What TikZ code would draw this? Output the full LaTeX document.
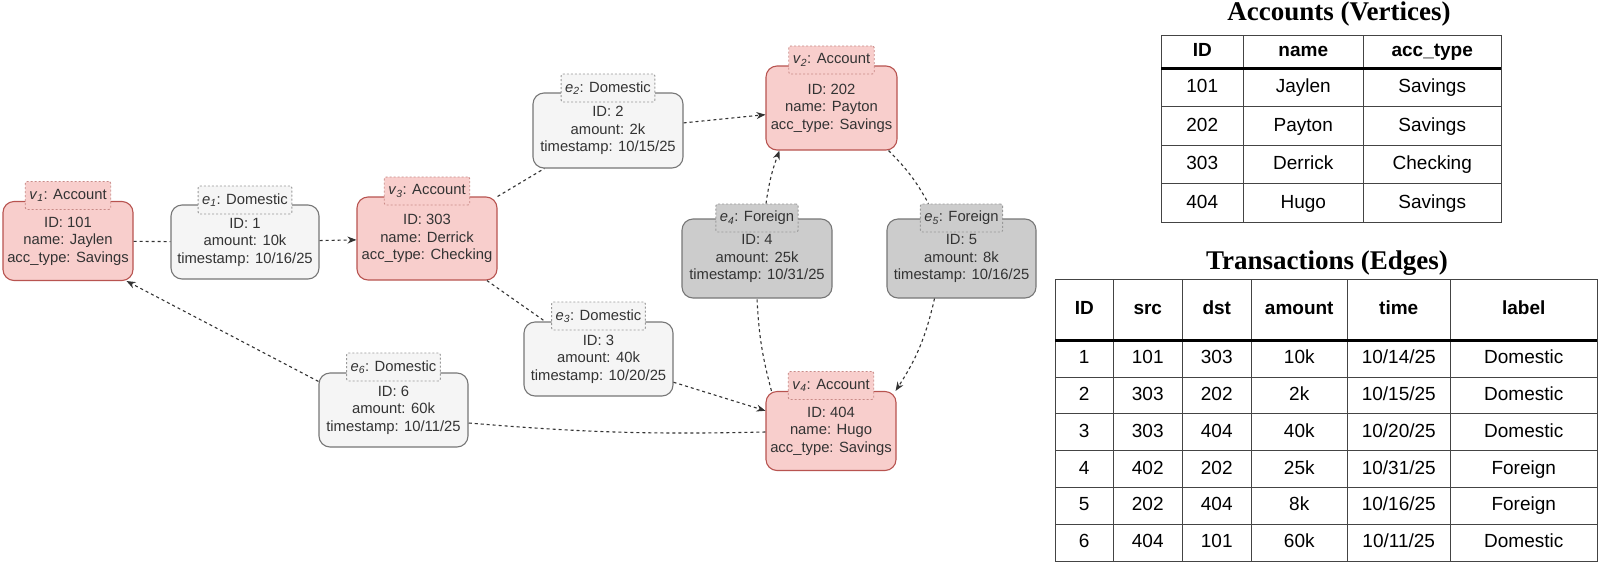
\documentclass[tikz,border=0pt]{standalone}
\usepackage{fontspec}
\setmainfont{Liberation Sans}
\newfontfamily\titleserif{Liberation Serif}
\usetikzlibrary{positioning, arrows.meta, matrix}

\definecolor{vfill}{HTML}{F8CECC}
\definecolor{vline}{HTML}{B85450}
\definecolor{vtagline}{HTML}{C98A87}
\definecolor{dfill}{HTML}{F5F5F5}
\definecolor{dline}{HTML}{777777}
\definecolor{ffill}{HTML}{CCCCCC}
\definecolor{fline}{HTML}{777777}
\definecolor{etagline}{HTML}{999999}
\definecolor{ink}{HTML}{333333}
\definecolor{gridline}{HTML}{444444}

\newcommand{\diagfont}{\fontsize{14.8pt}{17.5pt}\selectfont}
\newcommand{\tblfont}{\fontsize{19pt}{22pt}\selectfont}
\newcommand{\vlab}[1]{\textit{v}\textsubscript{\textit{#1}}: Account}
\newcommand{\elab}[2]{\textit{e}\textsubscript{\textit{#1}}: #2}

\begin{document}
\begin{tikzpicture}[%
    x=1pt, y=1pt,                          % one unit = one pixel
    >={Stealth[length=9pt, width=7pt]},    % small filled heads
    ]

\tikzset{
  box/.style={draw, rounded corners=11pt, align=center, line width=1.1pt, inner sep=0pt, font=\diagfont, text=ink},
  vert/.style={box, fill=vfill, draw=vline, minimum width=130pt, minimum height=79pt},
  dom/.style={box, fill=dfill, draw=dline, minimum width=149pt, minimum height=74pt},
  frgn/.style={box, fill=ffill, draw=fline, minimum width=150pt, minimum height=79pt},
  tag/.style={draw, dash pattern=on 2pt off 2pt, rounded corners=2pt, line width=0.9pt, minimum height=28pt, inner xsep=4pt, inner ysep=0pt, font=\diagfont, text=ink},
  vtag/.style={tag, fill=vfill, draw=vtagline},
  etag/.style={tag, fill=dfill, draw=etagline},
  ftag/.style={tag, fill=ffill, draw=etagline},
  link/.style={draw=ink, line width=1.1pt, dash pattern=on 3pt off 3pt},
  cell/.style={draw=gridline, line width=1.1pt, outer sep=0pt, inner sep=0pt, font=\tblfont, text height=14pt, text depth=4pt},
  tbl/.style={matrix of nodes, inner sep=0pt, row sep=-1.1pt, column sep=-1.1pt, nodes={cell}},
  tbltitle/.style={font=\titleserif\fontsize{27pt}{30pt}\selectfont\bfseries, anchor=base, inner sep=0pt}
  }

\useasboundingbox (0,0) rectangle (1600,-563);
\fill[white] (0,0) rectangle (1600,-563);

% ACCOUNTS
\node[vert] (v1) at (68,-241) {ID: 101\\name: Jaylen\\acc\_type: Savings};
\node[vert, minimum width=140pt, minimum height=83pt] (v3) at (427,-238.5) {ID: 303\\name: Derrick\\acc\_type: Checking};
\node[vert, minimum width=131pt, minimum height=84pt] (v2) at (831.5,-108) {ID: 202\\name: Payton\\acc\_type: Savings};
\node[vert] (v4) at (831,-431) {ID: 404\\name: Hugo\\acc\_type: Savings};

% TRANSACTIONS
\node[dom, minimum width=148pt] (e1) at (245,-242) {ID: 1\\amount: 10k\\timestamp: 10/16/25};
\node[dom, minimum width=150pt, minimum height=75pt] (e2) at (608,-130.5) {ID: 2\\amount: 2k\\timestamp: 10/15/25};
\node[dom] (e3) at (598.5,-359) {ID: 3\\amount: 40k\\timestamp: 10/20/25};
\node[frgn] (e4) at (757,-258.5) {ID: 4\\amount: 25k\\timestamp: 10/31/25};
\node[frgn, minimum width=149pt] (e5) at (961.5,-258.5) {ID: 5\\amount: 8k\\timestamp: 10/16/25};
\node[dom] (e6) at (393.5,-410) {ID: 6\\amount: 60k\\timestamp: 10/11/25};

% tags
\node[vtag, above=-9pt of v1.north] (v1t) {\vlab{1}};
\node[vtag, above=-9pt of v2.north] (v2t) {\vlab{2}};
\node[vtag, above=-9pt of v3.north] (v3t) {\vlab{3}};
\node[vtag, above=-9pt of v4.north] (v4t) {\vlab{4}};
\node[etag, above=-10pt of e1.north] (e1t) {\elab{1}{Domestic}};
\node[etag, above=-10pt of e2.north] (e2t) {\elab{2}{Domestic}};
\node[etag, above=-9pt of e3.north] (e3t) {\elab{3}{Domestic}};
\node[ftag, above=-14pt of e4.north] (e4t) {\elab{4}{Foreign}};
\node[ftag, above=-14pt of e5.north] (e5t) {\elab{5}{Foreign}};
\node[etag, above=-9pt of e6.north] (e6t) {\elab{6}{Domestic}};

% connectors
\draw[link] (v1) -- (e1);
\draw[link, ->] (e1) -- (v3);
\draw[link] (v3) -- (e2);
\draw[link, ->] (e2) -- (v2);
\draw[link] (v3) -- (e3);
\draw[link, ->] (e3) -- (v4);
\draw[link] ([xshift=6pt]v4.north west) to[bend left=6] (e4.south);
\draw[link, ->] ([xshift=9pt]e4t.north) to[bend left=6] ([xshift=14pt]v2.south west);
\draw[link] ([xshift=-9pt]v2.south east) to[bend left=8] ([xshift=-33pt]e5t.north);
\draw[link, ->] ([xshift=-27pt]e5.south) to[bend left=10] ([xshift=-1pt]v4.north east);
\draw[link] ([yshift=-1pt]v4.west) to[bend left=3] ([yshift=-13pt]e6.east);
\draw[link, ->] ([yshift=-9pt]e6.north west) -- ([xshift=-7pt]v1.south east);

% TABLES
\node[tbltitle] (acctitle) at (1339,-20) {Accounts (Vertices)};
\matrix[tbl, anchor=north west,
  nodes={minimum height=38.5pt},
  row 1/.style={nodes={font=\tblfont\bfseries, minimum height=33pt}},
  column 1/.style={nodes={minimum width=82pt}},
  column 2/.style={nodes={minimum width=120pt}},
  column 3/.style={nodes={minimum width=138pt}}] (acc) at (1160.5,-34.5) {
  ID  & name    & acc\_type \\
  101 & Jaylen  & Savings   \\
  202 & Payton  & Savings   \\
  303 & Derrick & Checking  \\
  404 & Hugo    & Savings   \\
};
\draw[line width=2.6pt] (acc-1-1.south west) -- (acc-1-3.south east);

\node[tbltitle] (txtitle) at (1327,-269) {Transactions (Edges)};
\matrix[tbl, anchor=north west,
  nodes={minimum height=36.8pt},
  row 1/.style={nodes={font=\tblfont\bfseries, minimum height=61pt}},
  column 1/.style={nodes={minimum width=58pt}},
  column 2/.style={nodes={minimum width=69pt}},
  column 3/.style={nodes={minimum width=69pt}},
  column 4/.style={nodes={minimum width=96pt}},
  column 5/.style={nodes={minimum width=103pt}},
  column 6/.style={nodes={minimum width=147pt}}] (tx) at (1054.5,-278.5) {
  ID & src & dst & amount & time     & label    \\
  1  & 101 & 303 & 10k    & 10/14/25 & Domestic \\
  2  & 303 & 202 & 2k     & 10/15/25 & Domestic \\
  3  & 303 & 404 & 40k    & 10/20/25 & Domestic \\
  4  & 402 & 202 & 25k    & 10/31/25 & Foreign  \\
  5  & 202 & 404 & 8k     & 10/16/25 & Foreign  \\
  6  & 404 & 101 & 60k    & 10/11/25 & Domestic \\
};
\draw[line width=2.6pt] (tx-1-1.south west) -- (tx-1-6.south east);

\end{tikzpicture}
\end{document}
